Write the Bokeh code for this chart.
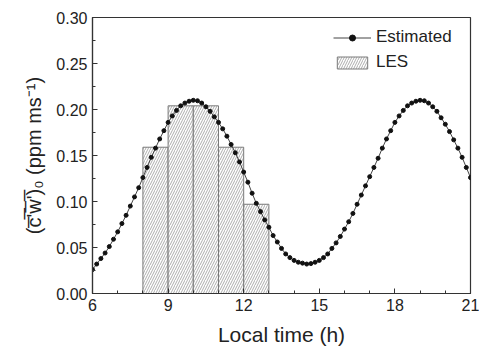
from bokeh.plotting import figure
from bokeh.models import (Legend, LegendItem, NumeralTickFormatter, FixedTicker,
                          Range1d, ColumnDataSource)
from bokeh.embed import file_html
from bokeh.resources import INLINE

# Estimated flux, sampled every 10 minutes (minutes after midnight)
minutes = [360, 370, 380, 390, 400, 410, 420, 430, 440, 450, 460, 470,
           480, 490, 500, 510, 520, 530, 540, 550, 560, 570, 580, 590,
           600, 610, 620, 630, 640, 650, 660, 670, 680, 690, 700, 710,
           720, 730, 740, 750, 760, 770, 780, 790, 800, 810, 820, 830,
           840, 850, 860, 870, 880, 890, 900, 910, 920, 930, 940, 950,
           960, 970, 980, 990, 1000, 1010, 1020, 1030, 1040, 1050, 1060, 1070,
           1080, 1090, 1100, 1110, 1120, 1130, 1140, 1150, 1160, 1170, 1180, 1190,
           1200, 1210, 1220, 1230, 1240, 1250, 1260]
estimated = [0.026, 0.032, 0.038, 0.044, 0.051, 0.059, 0.067, 0.076, 0.085, 0.095, 0.105, 0.115,
             0.126, 0.137, 0.148, 0.158, 0.168, 0.177, 0.186, 0.193, 0.199, 0.204, 0.207, 0.209,
             0.210, 0.2095, 0.207, 0.203, 0.198, 0.192, 0.186, 0.179, 0.171, 0.162, 0.153, 0.143,
             0.132, 0.121, 0.109, 0.098, 0.089, 0.080, 0.072, 0.063, 0.056, 0.049, 0.043, 0.039,
             0.036, 0.034, 0.033, 0.032, 0.0325, 0.034, 0.036, 0.039, 0.043, 0.049, 0.055, 0.062,
             0.070, 0.078, 0.087, 0.097, 0.107, 0.117, 0.127, 0.137, 0.147, 0.158, 0.168, 0.177,
             0.186, 0.193, 0.199, 0.204, 0.207, 0.209, 0.210, 0.2095, 0.207, 0.203, 0.198, 0.191,
             0.184, 0.176, 0.167, 0.158, 0.148, 0.137, 0.126]

# LES hourly bars (centre hour)
les_hour = [8.5, 9.5, 10.5, 11.5, 12.5]
les_flux = [0.159, 0.204, 0.204, 0.159, 0.097]

x_ticks = [6, 9, 12, 15, 18, 21]
y_ticks = [0.0, 0.05, 0.10, 0.15, 0.20, 0.25, 0.30]

hours = [m / 60.0 for m in minutes]
est_src = ColumnDataSource(dict(t=hours, v=estimated))
les_src = ColumnDataSource(dict(t=les_hour, v=les_flux))

FONT = "Liberation Sans"
TXT = "#222222"
AX = "#333333"

p = figure(width=479, height=349, output_backend="svg", toolbar_location=None,
           x_range=Range1d(6, 21), y_range=Range1d(0, 0.30),
           min_border_left=92, min_border_right=9, min_border_top=17, min_border_bottom=56)

p.xgrid.visible = False
p.ygrid.visible = False
p.outline_line_color = AX
p.outline_line_width = 1.2
p.background_fill_color = "white"
p.border_fill_color = "white"

bars = p.vbar(x="t", top="v", width=1.0, bottom=0, source=les_src,
              fill_color="white", line_color="#7a7a7a", line_width=1,
              hatch_pattern="/", hatch_color="#8a8a8a", hatch_scale=5, hatch_weight=0.7)

line = p.line("t", "v", source=est_src, line_color="#444444", line_width=1)
dots = p.scatter("t", "v", source=est_src, size=4, fill_color="#111111",
                 line_color="#111111")

for ax in (p.xaxis[0], p.yaxis[0]):
    ax.axis_line_color = AX
    ax.axis_line_width = 1.2
    ax.major_tick_line_color = AX
    ax.minor_tick_line_color = AX
    ax.major_tick_in = 5
    ax.major_tick_out = 0
    ax.minor_tick_in = 3
    ax.minor_tick_out = 0
    ax.major_label_text_font = FONT
    ax.major_label_text_font_size = "16px"
    ax.major_label_text_color = TXT
    ax.axis_label_text_font = FONT
    ax.axis_label_text_font_style = "normal"
    ax.axis_label_text_color = TXT

p.xaxis.ticker = FixedTicker(ticks=x_ticks, minor_ticks=list(range(6, 22)))
p.yaxis.ticker = FixedTicker(ticks=y_ticks,
                             minor_ticks=[0.0, 0.025, 0.05, 0.075, 0.10, 0.125, 0.15,
                                          0.175, 0.20, 0.225, 0.25, 0.275, 0.30])
p.yaxis.formatter = NumeralTickFormatter(format="0.00")
p.xaxis.major_label_standoff = 5
p.yaxis.major_label_standoff = 5

p.xaxis.axis_label = "Local time (h)"
p.xaxis.axis_label_text_font_size = "21px"
p.xaxis.axis_label_standoff = 9
p.yaxis.axis_label = "(c\u0305'\u0305w\u0305'\u0305)\u2080 (ppm ms\u207b\u00b9)"
p.yaxis.axis_label_text_font_size = "20px"
p.yaxis.axis_label_standoff = 8

legend = Legend(items=[LegendItem(label="Estimated", renderers=[line, dots]),
                       LegendItem(label="LES", renderers=[bars])],
                location=(241, 221), border_line_color=None, background_fill_alpha=0,
                padding=0, margin=0, spacing=5, glyph_width=38, glyph_height=15,
                label_height=17, label_standoff=5, label_text_font=FONT,
                label_text_font_size="17px", label_text_color=TXT)
p.add_layout(legend)

open("out.html", "w").write(file_html(p, INLINE))
